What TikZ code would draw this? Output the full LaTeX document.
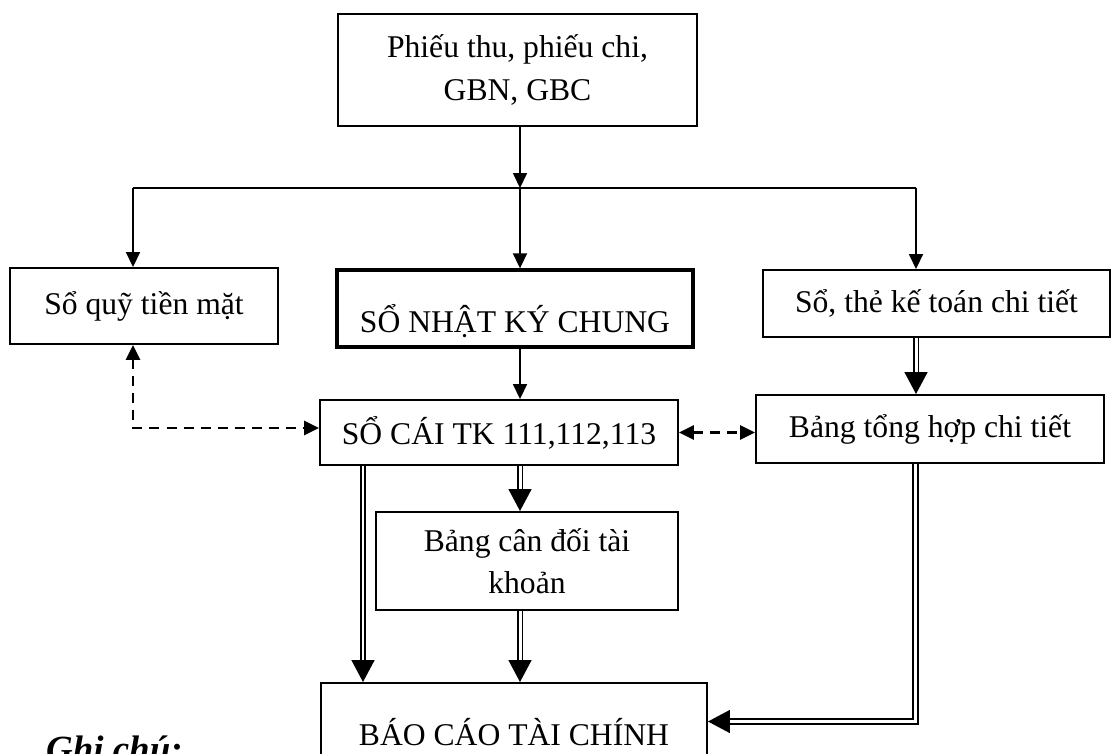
\documentclass[tikz,border=0pt]{standalone}
\usepackage{fontspec}
\setmainfont{Liberation Serif}
\usetikzlibrary{arrows.meta}

\begin{document}
\begin{tikzpicture}[
  box/.style={draw,line width=1.1pt,inner sep=0pt,align=center,font=\fontsize{18}{24}\selectfont},
  ln/.style={line width=0.75pt},
  sarr/.style={ln,-{Triangle[length=8.5pt,width=8pt]}},
  darr/.style={double,line width=1.1pt,double distance=1.7pt,-{Triangle[length=12.5pt,width=13pt]}},
  dsh/.style={line width=1.5pt,dash pattern=on 5.7pt off 4pt,{Triangle[length=8.5pt,width=8pt]}-{Triangle[length=8.5pt,width=8pt]}}]
\useasboundingbox (0,0) rectangle (22.32,15.06);
\clip (0,0) rectangle (22.32,15.06);
\node (top) at (10.35,13.66) [box,minimum width=7.18cm,minimum height=2.24cm] {Phiếu thu, phiếu chi,\\GBN, GBC};
\node (quy) at ( 2.88, 8.94) [box,minimum width=5.36cm,minimum height=1.52cm] {Sổ quỹ tiền mặt};
\node (nkc) at (10.30, 8.89) [box,line width=1.9pt,minimum width=7.12cm,minimum height=1.54cm,text height=1cm,text depth=0.04cm] {SỔ NHẬT KÝ CHUNG};
\node (ctct) at (18.73, 8.99) [box,minimum width=6.94cm,minimum height=1.34cm] {Sổ, thẻ kế toán chi tiết};
\node (sc) at ( 9.98, 6.41) [box,minimum width=7.16cm,minimum height=1.30cm] {SỔ CÁI TK 111,112,113};
\node (th) at (18.60, 6.48) [box,minimum width=6.96cm,minimum height=1.36cm] {Bảng tổng hợp chi tiết};
\node (cd) at (10.54, 3.84) [box,minimum width=6.04cm,minimum height=1.96cm] {Bảng cân đối tài\\khoản};
\node (bc) at (10.28, 0.42) [box,minimum width=7.72cm,minimum height=1.96cm] {BÁO CÁO TÀI CHÍNH};
\node (gc) at ( 0.80,-0.16) [anchor=base west,font=\fontsize{21}{25}\selectfont\bfseries\itshape] {Ghi chú:};
\coordinate (jn) at (10.40,11.30);
\coordinate (jl) at ( 2.66,11.30);
\coordinate (jr) at (18.32,11.30);
\coordinate (dq) at ( 2.66, 6.50);
\coordinate (xl) at ( 7.26, 0);
\coordinate (tr) at (18.31, 0.63);
\draw[sarr] (top.south -| jn) -- (jn);
\draw[ln] (jl) -- (jr);
\draw[sarr] (jl) -- (jl |- quy.north);
\draw[sarr] (jn) -- (jn |- nkc.north);
\draw[sarr] (jr) -- (jr |- ctct.north);
\draw[sarr] (nkc.south -| jn) -- (sc.north -| jn);
\draw[darr] (ctct.south -| jr) -- (th.north -| jr);
\draw[dsh] (quy.south -| dq) -- (dq) -- (dq -| sc.west);
\draw[dsh] (sc.east) -- (sc.east -| th.west);
\draw[darr] (sc.south -| jn) -- (cd.north -| jn);
\draw[darr] (sc.south -| xl) -- (bc.north -| xl);
\draw[darr] (cd.south -| jn) -- (bc.north -| jn);
\draw[darr] (th.south -| tr) -- (tr) -- (tr -| bc.east);
\end{tikzpicture}
\end{document}
